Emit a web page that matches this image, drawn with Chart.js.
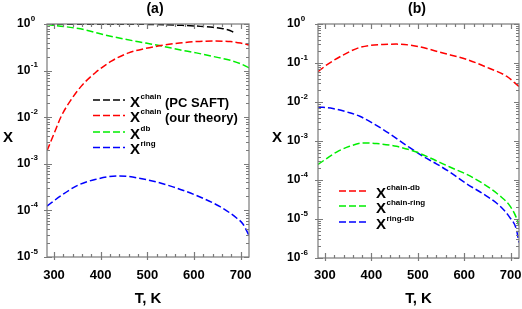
<!DOCTYPE html>
<html>
<head>
<meta charset="utf-8">
<script src="https://cdn.jsdelivr.net/npm/chart.js@4"></script>
<style>
  html, body { margin: 0; padding: 0; background: #fff; }
  #wrap { position: relative; width: 522px; height: 309px; }
  canvas { position: absolute; top: 0; }
</style>
</head>
<body>
<div id="wrap">
  <canvas id="chartA" width="261" height="309" style="left:0"></canvas>
  <canvas id="chartB" width="261" height="309" style="left:261px"></canvas>
</div>
<script>
// x range shared by both panels (T, K)
const tMin = 285, tMax = 718;
const tTicks = [300, 400, 500, 600, 700];

// panel (a)
const pcsaftT = [285, 350, 420, 500, 540, 570, 600, 620, 640, 656, 674, 685];
const pcsaftX = [0.995, 0.993, 0.99, 0.98, 0.965, 0.94, 0.91, 0.88, 0.85, 0.81, 0.745, 0.665];
const theoryT = [285, 300, 316, 337, 359, 388, 424, 460, 497, 533, 569, 605, 642, 678, 700, 718];
const theoryX = [0.0019, 0.0044, 0.0107, 0.024, 0.047, 0.089, 0.162, 0.24, 0.30, 0.35, 0.39, 0.42, 0.43, 0.42, 0.39, 0.355];
const dbT = [285, 323, 366, 410, 453, 497, 529, 569, 605, 642, 678, 700, 718];
const dbX = [0.97, 0.88, 0.75, 0.58, 0.47, 0.39, 0.34, 0.28, 0.24, 0.20, 0.166, 0.14, 0.115];
const ringT = [285, 316, 352, 388, 439, 497, 555, 605, 656, 692, 705, 718];
const ringX = [1.24e-4, 2.1e-4, 3.5e-4, 4.6e-4, 5.5e-4, 4.6e-4, 3.2e-4, 2.1e-4, 1.2e-4, 6.8e-5, 5.1e-5, 2.9e-5];
const decadesA = [0, -1, -2, -3, -4, -5];
const legendSupA = ['chain', 'chain', 'db', 'ring'];
const legendTailA = ['(PC SAFT)', '(our theory)', '', ''];

// panel (b)
const chainDbT = [285, 303, 339, 375, 425, 454, 497, 554, 605, 655, 691, 718];
const chainDbX = [0.06, 0.088, 0.16, 0.25, 0.30, 0.305, 0.27, 0.18, 0.124, 0.072, 0.046, 0.025];
const chainRingT = [285, 325, 353, 382, 411, 454, 497, 526, 569, 605, 641, 676, 698, 712, 718];
const chainRingX = [2.5e-4, 5.2e-4, 7.3e-4, 8.9e-4, 8.6e-4, 7.3e-4, 5.2e-4, 3.7e-4, 2.15e-4, 1.4e-4, 8.0e-5, 4.0e-5, 2.2e-5, 1.1e-5, 6.6e-6];
const ringDbT = [285, 317, 353, 375, 404, 439, 475, 511, 540, 569, 605, 641, 676, 698, 712, 718];
const ringDbX = [7.5e-3, 6.8e-3, 5.3e-3, 4.3e-3, 2.8e-3, 1.55e-3, 7.8e-4, 4.05e-4, 2.6e-4, 1.6e-4, 8.0e-5, 4.4e-5, 2.2e-5, 1.1e-5, 5.6e-6, 2.5e-6];
const decadesB = [0, -1, -2, -3, -4, -5, -6];
const legendSupB = ['chain-db', 'chain-ring', 'ring-db'];
const legendTailB = ['', '', ''];

const FONT = '"Liberation Sans", Arial, sans-serif';
const AXIS_COLOR = '#7a7a7a';

function pts(ts, xs) {
    return ts.map((t, i) => ({ x: t, y: xs[i] }));
}

function line(label, ts, xs, color) {
    return {
        label: label,
        data: pts(ts, xs),
        borderColor: color,
        borderWidth: 1.5,
        borderDash: [7, 3],
        pointRadius: 0,
        fill: false,
        cubicInterpolationMode: 'monotone'
    };
}

// draws frame, inward ticks, labels, title and legend
function decorPlugin(cfg) {
    return {
        id: 'decor',
        afterDraw(chart) {
            const ctx = chart.ctx;
            const a = chart.chartArea;
            const xs = chart.scales.x, ys = chart.scales.y;
            ctx.save();
            ctx.strokeStyle = AXIS_COLOR;
            ctx.lineWidth = 1.2;
            ctx.setLineDash([]);
            ctx.strokeRect(a.left, a.top, a.right - a.left, a.bottom - a.top);

            ctx.beginPath();
            // x ticks, bottom and top
            for (let t = 300; t <= tMax; t += 20) {
                const px = Math.round(xs.getPixelForValue(t)) + 0.5;
                const major = t % 100 === 0;
                const len = major ? 5 : 3;
                ctx.moveTo(px, a.bottom + (major ? 3 : 0)); ctx.lineTo(px, a.bottom - len);
                ctx.moveTo(px, a.top); ctx.lineTo(px, a.top + len);
            }
            // y ticks, left and right
            cfg.decades.forEach(d => {
                for (let m = 1; m <= 9; m++) {
                    const v = m * Math.pow(10, d);
                    if (v > 1.0000001 || v < Math.pow(10, cfg.decades[cfg.decades.length - 1]) * 0.999) continue;
                    const py = Math.round(ys.getPixelForValue(v)) + 0.5;
                    const len = m === 1 ? 5 : 3;
                    ctx.moveTo(a.left - (m === 1 ? 3 : 0), py); ctx.lineTo(a.left + len, py);
                    ctx.moveTo(a.right, py); ctx.lineTo(a.right - len, py);
                }
            });
            ctx.stroke();

            ctx.fillStyle = '#000';
            // y tick labels: 10 with superscript exponent
            cfg.decades.forEach(d => {
                const py = ys.getPixelForValue(Math.pow(10, d));
                const c = py - 1;
                ctx.font = 'bold 12px ' + FONT;
                ctx.textAlign = 'left';
                ctx.textBaseline = 'alphabetic';
                ctx.fillText('10', cfg.yLabelX, c + 4.3);
                const w = ctx.measureText('10').width;
                ctx.font = 'bold 8px ' + FONT;
                ctx.fillText(String(d), cfg.yLabelX + w + 0.5, c - 2.5);
            });

            // x tick labels
            ctx.font = 'bold 13px ' + FONT;
            ctx.textAlign = 'center';
            ctx.textBaseline = 'middle';
            tTicks.forEach(t => ctx.fillText(String(t), xs.getPixelForValue(t), 275));

            // axis titles and panel title
            ctx.font = 'bold 15px ' + FONT;
            ctx.fillText('T, K', (a.left + a.right) / 2, 299);
            ctx.fillText('X', cfg.xLabelX, 138);
            ctx.font = 'bold 14px ' + FONT;
            ctx.fillText(cfg.title, cfg.titleX, 9);

            // legend
            chart.data.datasets.forEach((ds, i) => {
                const y = cfg.legendY[i];
                ctx.strokeStyle = ds.borderColor;
                ctx.lineWidth = 1.5;
                ctx.setLineDash([7, 3]);
                ctx.beginPath();
                ctx.moveTo(cfg.legendX0, y); ctx.lineTo(cfg.legendX1, y);
                ctx.stroke();
                ctx.setLineDash([]);
                const c = y + 1.5;
                ctx.textAlign = 'left';
                ctx.textBaseline = 'alphabetic';
                ctx.font = 'bold 15px ' + FONT;
                ctx.fillText('X', cfg.legendTextX, c + 5.4);
                let x = cfg.legendTextX + ctx.measureText('X').width + 0.5;
                ctx.font = 'bold 8px ' + FONT;
                ctx.fillText(cfg.sup[i], x, c - 3);
                x += ctx.measureText(cfg.sup[i]).width + 3.5;
                if (cfg.tail[i]) {
                    ctx.font = 'bold 13px ' + FONT;
                    ctx.fillText(cfg.tail[i], x, c + 5.4);
                }
            });
            ctx.restore();
        }
    };
}

function makeChart(id, datasets, yMin, pad, cfg) {
    return new Chart(document.getElementById(id).getContext('2d'), {
        type: 'line',
        data: { datasets: datasets },
        options: {
            responsive: false,
            animation: false,
            layout: { padding: pad },
            plugins: { legend: { display: false }, tooltip: { enabled: false } },
            scales: {
                x: { type: 'linear', min: tMin, max: tMax, display: false },
                y: { type: 'logarithmic', min: yMin, max: 1, display: false }
            }
        },
        plugins: [decorPlugin(cfg)]
    });
}

makeChart('chartA', [
    line('X chain (PC SAFT)', pcsaftT, pcsaftX, '#000000'),
    line('X chain (our theory)', theoryT, theoryX, '#ff0000'),
    line('X db', dbT, dbX, '#00ee00'),
    line('X ring', ringT, ringX, '#0000ff')
], 1e-5, { left: 47, right: 12, top: 24, bottom: 52 }, {
    decades: decadesA, yLabelX: 17, xLabelX: 8, title: '(a)', titleX: 155,
    legendY: [100, 115.5, 132, 147.5], legendX0: 93, legendX1: 125, legendTextX: 130,
    sup: legendSupA, tail: legendTailA
});

makeChart('chartB', [
    line('X chain-db', chainDbT, chainDbX, '#ff0000'),
    line('X chain-ring', chainRingT, chainRingX, '#00ee00'),
    line('X ring-db', ringDbT, ringDbX, '#0000ff')
], 1e-6, { left: 57, right: 3, top: 24, bottom: 51 }, {
    decades: decadesB, yLabelX: 26, xLabelX: 16, title: '(b)', titleX: 156,
    legendY: [191, 206, 222], legendX0: 78, legendX1: 108, legendTextX: 115,
    sup: legendSupB, tail: legendTailB
});
</script>
</body>
</html>
